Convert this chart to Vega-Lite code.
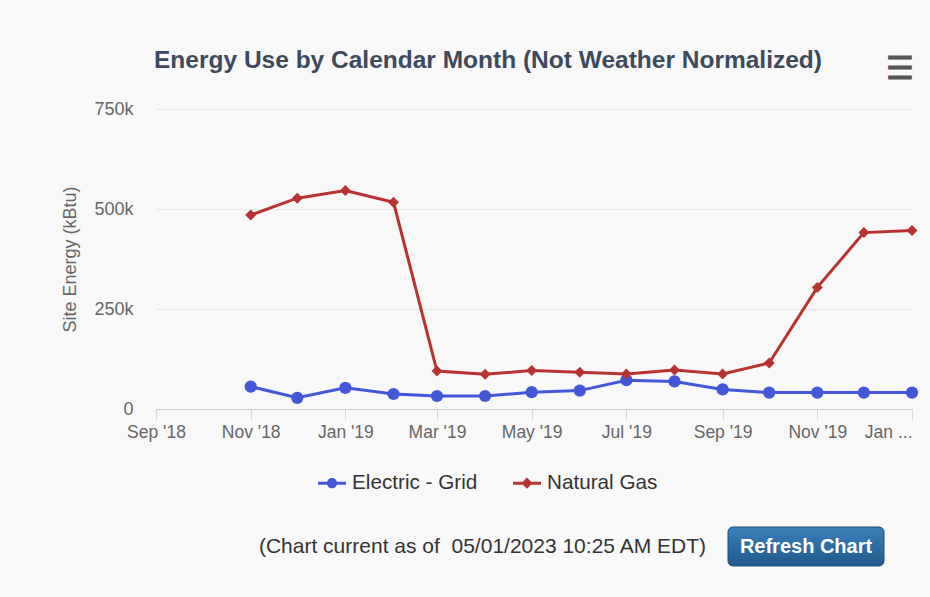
{
  "$schema": "https://vega.github.io/schema/vega-lite/v6.json",
  "background": "#f8f8f8",
  "padding": {"left": 61, "top": 44, "right": 19, "bottom": 31},
  "config": {"font": "Liberation Sans", "view": {"stroke": null}},
  "datasets": {
    "energy": [
      {"month": "2018-11-01", "source": "Electric - Grid", "kbtu": 56000},
      {"month": "2018-12-01", "source": "Electric - Grid", "kbtu": 28000},
      {"month": "2019-01-01", "source": "Electric - Grid", "kbtu": 53000},
      {"month": "2019-02-01", "source": "Electric - Grid", "kbtu": 37500},
      {"month": "2019-03-01", "source": "Electric - Grid", "kbtu": 32500},
      {"month": "2019-04-01", "source": "Electric - Grid", "kbtu": 32500},
      {"month": "2019-05-01", "source": "Electric - Grid", "kbtu": 42000},
      {"month": "2019-06-01", "source": "Electric - Grid", "kbtu": 46000},
      {"month": "2019-07-01", "source": "Electric - Grid", "kbtu": 72000},
      {"month": "2019-08-01", "source": "Electric - Grid", "kbtu": 69000},
      {"month": "2019-09-01", "source": "Electric - Grid", "kbtu": 49000},
      {"month": "2019-10-01", "source": "Electric - Grid", "kbtu": 41000},
      {"month": "2019-11-01", "source": "Electric - Grid", "kbtu": 41000},
      {"month": "2019-12-01", "source": "Electric - Grid", "kbtu": 41000},
      {"month": "2020-01-01", "source": "Electric - Grid", "kbtu": 41000},
      {"month": "2018-11-01", "source": "Natural Gas", "kbtu": 485000},
      {"month": "2018-12-01", "source": "Natural Gas", "kbtu": 527000},
      {"month": "2019-01-01", "source": "Natural Gas", "kbtu": 546000},
      {"month": "2019-02-01", "source": "Natural Gas", "kbtu": 517000},
      {"month": "2019-03-01", "source": "Natural Gas", "kbtu": 95000},
      {"month": "2019-04-01", "source": "Natural Gas", "kbtu": 87000},
      {"month": "2019-05-01", "source": "Natural Gas", "kbtu": 96000},
      {"month": "2019-06-01", "source": "Natural Gas", "kbtu": 92000},
      {"month": "2019-07-01", "source": "Natural Gas", "kbtu": 87500},
      {"month": "2019-08-01", "source": "Natural Gas", "kbtu": 97500},
      {"month": "2019-09-01", "source": "Natural Gas", "kbtu": 87500},
      {"month": "2019-10-01", "source": "Natural Gas", "kbtu": 115000},
      {"month": "2019-11-01", "source": "Natural Gas", "kbtu": 304000},
      {"month": "2019-12-01", "source": "Natural Gas", "kbtu": 441000},
      {"month": "2020-01-01", "source": "Natural Gas", "kbtu": 446000}
    ],
    "header": [{"title": "Energy Use by Calendar Month (Not Weather Normalized)", "icon": "☰"}],
    "footer": [{"note": "(Chart current as of \u00a005/01/2023 10:25 AM EDT)", "button": "Refresh Chart"}]
  },
  "bounds": "flush",
  "spacing": 35,
  "vconcat": [
    {
      "width": 756,
      "height": 30,
      "data": {"name": "header"},
      "layer": [
        {"mark": {"type": "text", "fontSize": 24.5, "fontWeight": "bold", "color": "#3d4a5e", "dx": -46, "dy": 2}, "encoding": {"text": {"field": "title"}}},
        {"mark": {"type": "text", "fontSize": 31, "fontWeight": "bold", "color": "#555555", "x": "width", "align": "right", "dx": 2, "dy": 11}, "encoding": {"text": {"field": "icon"}}}
      ]
    },
    {
      "bounds": "flush",
      "spacing": 118,
      "vconcat": [
        {
          "width": 756,
          "height": 300,
          "data": {"name": "energy"},
          "encoding": {
            "x": {
              "field": "month", "type": "temporal",
              "scale": {"type": "utc", "domain": [{"year": 2018, "month": 9, "date": 1, "utc": true}, {"year": 2020, "month": 1, "date": 1, "utc": true}]},
              "axis": {
                "title": null,
                "values": [
                  {"year": 2018, "month": 9, "date": 1, "utc": true},
                  {"year": 2018, "month": 11, "date": 1, "utc": true},
                  {"year": 2019, "month": 1, "date": 1, "utc": true},
                  {"year": 2019, "month": 3, "date": 1, "utc": true},
                  {"year": 2019, "month": 5, "date": 1, "utc": true},
                  {"year": 2019, "month": 7, "date": 1, "utc": true},
                  {"year": 2019, "month": 9, "date": 1, "utc": true},
                  {"year": 2019, "month": 11, "date": 1, "utc": true},
                  {"year": 2020, "month": 1, "date": 1, "utc": true}
                ],
                "labelExpr": "utcyear(datum.value) == 2020 ? 'Jan ...' : utcFormat(datum.value, \"%b '%y\")",
                "labelAlign": {"condition": {"test": "utcyear(datum.value) == 2020", "value": "right"}, "value": "center"},
                "labelFlush": false,
                "labelOverlap": false,
                "labelFontSize": 17.5,
                "labelColor": "#666666",
                "labelPadding": 4,
                "grid": false,
                "domainColor": "#cccccc",
                "tickColor": "#d6d6d6",
                "tickSize": 10
              }
            },
            "y": {
              "field": "kbtu", "type": "quantitative",
              "scale": {"domain": [0, 750000], "nice": false},
              "axis": {
                "title": "Site Energy (kBtu)",
                "values": [0, 250000, 500000, 750000],
                "labelExpr": "datum.value == 0 ? '0' : (datum.value / 1000) + 'k'",
                "domain": false,
                "ticks": false,
                "gridColor": "#e6e6e6",
                "labelColor": "#666666",
                "labelFontSize": 18,
                "labelPadding": 23,
                "titleColor": "#666666",
                "titleFontSize": 18,
                "titleFontWeight": "normal",
                "titlePadding": 14
              }
            },
            "color": {
              "field": "source", "type": "nominal",
              "scale": {"domain": ["Electric - Grid", "Natural Gas"], "range": ["#4358d6", "#b73330"]},
              "legend": {
                "orient": "none",
                "legendX": 162,
                "legendY": 425,
                "direction": "horizontal",
                "title": null,
                "padding": 0,
                "symbolSize": 784,
                "symbolStrokeWidth": 0,
                "symbolOpacity": 1,
                "labelFontSize": 20.7,
                "labelColor": "#333333",
                "labelOffset": 6,
                "columnPadding": 35
              }
            }
          },
          "layer": [
            {"mark": {"type": "line", "strokeWidth": 3}},
            {
              "transform": [{"filter": "datum.source === 'Electric - Grid'"}],
              "mark": {"type": "point", "filled": true, "opacity": 1, "shape": "circle", "size": 150}
            },
            {
              "transform": [{"filter": "datum.source === 'Natural Gas'"}],
              "mark": {"type": "point", "filled": true, "opacity": 1, "shape": "diamond", "size": 120}
            },
            {
              "transform": [{"filter": "false"}],
              "mark": {"type": "point", "filled": true, "opacity": 1},
              "encoding": {
                "shape": {
                  "field": "source", "type": "nominal",
                  "scale": {"domain": ["Electric - Grid", "Natural Gas"], "range": ["M-1,-0.107L1,-0.107L1,0.107L-1,0.107Z M0.36,0A0.36,0.36 0 1,1 -0.36,0A0.36,0.36 0 1,1 0.36,0Z", "M-1,-0.107L1,-0.107L1,0.107L-1,0.107Z M0,-0.4L0.4,0L0,0.4L-0.4,0Z"]},
                  "legend": null
                }
              }
            }
          ]
        },
        {
          "bounds": "flush",
          "spacing": 22,
          "hconcat": [
            {
              "width": 550,
              "height": 39,
              "data": {"name": "footer"},
              "mark": {"type": "text", "x": "width", "align": "right", "fontSize": 21, "color": "#333333"},
              "encoding": {"text": {"field": "note"}}
            },
            {
              "width": 156,
              "height": 39,
              "data": {"name": "footer"},
              "layer": [
                {
                  "mark": {"type": "rect", "cornerRadius": 5, "stroke": "#1d4f7a", "strokeWidth": 1,
                    "color": {"gradient": "linear", "x1": 0, "y1": 0, "x2": 0, "y2": 1, "stops": [{"offset": 0, "color": "#3a7fbb"}, {"offset": 1, "color": "#1f5a8c"}]}},
                  "encoding": {}
                },
                {"mark": {"type": "text", "fontSize": 20, "fontWeight": "bold", "color": "#ffffff"}, "encoding": {"text": {"field": "button"}}}
              ]
            }
          ]
        }
      ]
    }
  ]
}
